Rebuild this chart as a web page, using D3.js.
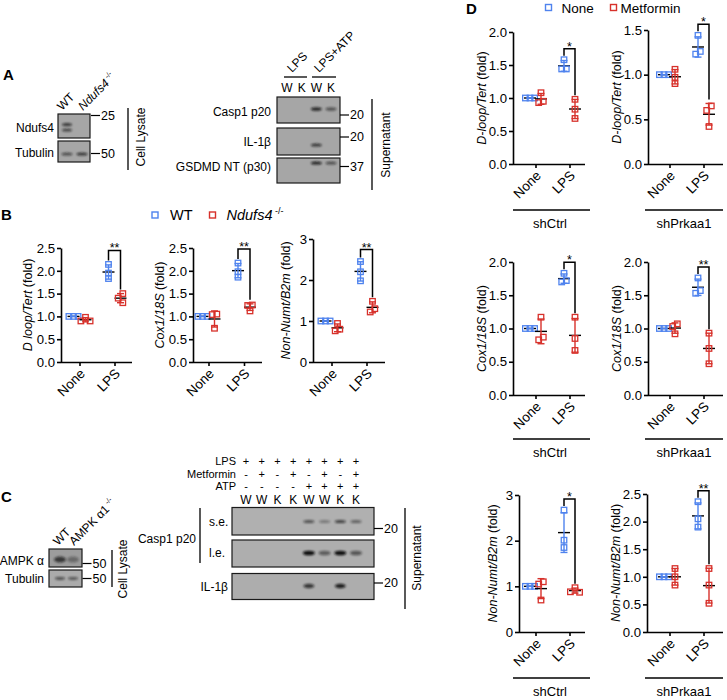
<!DOCTYPE html>
<html><head><meta charset="utf-8">
<script src="https://cdn.jsdelivr.net/npm/d3@7"></script>
<style>
body{margin:0;background:#fff}
svg{display:block}
text{font-family:"Liberation Sans",Arial,Helvetica,sans-serif;fill:#000}
</style>
</head><body>
<svg id="fig" width="727" height="700"></svg>
<script>
// ================= DATA =================
const conditions = ["None", "LPS"];
const legendB = ["WT", "Ndufs4"];
const legendD = ["None", "Metformin"];

// Panel B  (each: [None replicates, LPS replicates])
const bDloopWT = [[1.0, 1.0, 1.0], [2.14, 1.95, 1.83]];
const bDloopKO = [[0.98, 0.90, 0.90], [1.50, 1.40, 1.30]];
const bCox1WT  = [[1.0, 1.0, 1.0], [2.17, 1.98, 1.86]];
const bCox1KO  = [[1.05, 1.04, 0.74], [1.25, 1.24, 1.12]];
const bNumtWT  = [[1.0, 1.0, 1.0], [2.45, 2.20, 1.98]];
const bNumtKO  = [[0.94, 0.76, 0.80], [1.48, 1.30, 1.22]];
const sigB = ["**", "**", "**"];

// Panel D
const dDloopCtrlNone = [[1.0, 1.0, 1.0], [1.58, 1.44, 1.44]];
const dDloopCtrlMet  = [[0.93, 0.95, 1.08], [0.98, 0.83, 0.69]];
const dDloopPrkNone  = [[1.0, 1.0, 1.0], [1.44, 1.23, 1.26]];
const dDloopPrkMet   = [[1.06, 0.97, 0.90], [0.65, 0.60, 0.42]];
const dCoxCtrlNone   = [[1.0, 1.0, 1.0], [1.83, 1.70, 1.72]];
const dCoxCtrlMet    = [[1.17, 0.83, 0.87], [1.17, 0.85, 0.67]];
const dCoxPrkNone    = [[1.0, 1.0, 1.0], [1.76, 1.53, 1.57]];
const dCoxPrkMet     = [[1.07, 1.03, 0.92], [0.93, 0.70, 0.47]];
const dNumtCtrlNone  = [[1.0, 1.0, 1.0], [2.67, 2.01, 1.85]];
const dNumtCtrlMet   = [[1.10, 1.05, 0.70], [0.97, 0.87, 0.88]];
const dNumtPrkNone   = [[1.0, 1.0, 1.0], [2.36, 2.05, 1.90]];
const dNumtPrkMet    = [[1.15, 1.00, 0.85], [1.15, 0.85, 0.52]];
const sigD = ["*", "*", "*", "**", "*", "**"];
const groupsD = ["shCtrl", "shPrkaa1"];

// tick values
const ticksHalf25 = [0, 0.5, 1.0, 1.5, 2.0, 2.5];
const ticksHalf20 = [0, 0.5, 1.0, 1.5, 2.0];
const ticksHalf15 = [0, 0.5, 1.0, 1.5];
const ticksInt3 = [0, 1, 2, 3];

// Blots (band intensities per lane)
const aLanesLeft = ["WT", "Ndufs4"];
const aNdufs4Upper = [0.75, 0];
const aNdufs4Lower = [0.65, 0];
const aTubulin = [0.6, 0.75];
const aLanesRight = ["W", "K", "W", "K"];
const aCasp1 = [0, 0, 0.85, 0.55];
const aIL1b = [0, 0, 0.75, 0];
const aGsdmd = [0, 0, 0.9, 0.6];

const cLanesLeft = ["WT", "AMPK"];
const cAmpk = [0.7, 0.35];
const cTubulin = [0.6, 0.55];
const cLPS = ["+", "+", "+", "+", "+", "+", "+", "+"];
const cMet = ["-", "+", "-", "+", "-", "+", "-", "+"];
const cATP = ["-", "-", "-", "-", "+", "+", "+", "+"];
const cGeno = ["W", "W", "K", "K", "W", "W", "K", "K"];
const cCasp1SE = [0, 0, 0, 0, 0.6, 0.35, 0.7, 0.5];
const cCasp1LE = [0, 0, 0, 0, 1.0, 0.5, 1.0, 0.55];
const cIL1b = [0, 0, 0, 0, 0.75, 0, 0.9, 0];

// ================= DRAWING =================
const BLUE = "#4f83ee", RED = "#d7312b";
const svg = d3.select("#fig");
const defs = svg.append("defs");
defs.append("filter").attr("id", "blur").attr("x", "-50%").attr("y", "-100%").attr("width", "200%").attr("height", "300%")
  .append("feGaussianBlur").attr("stdDeviation", 0.9);

function txt(x, y, s, size, opts = {}) {
  const t = svg.append("text").attr("x", x).attr("y", y).attr("font-size", size).text(s);
  if (opts.anchor) t.attr("text-anchor", opts.anchor);
  if (opts.bold) t.attr("font-weight", "bold");
  if (opts.italic) t.attr("font-style", "italic");
  if (opts.dy) t.attr("dy", opts.dy);
  return t;
}
function line(x1, y1, x2, y2, w = 1.2, c = "#000") {
  svg.append("line").attr("x1", x1).attr("y1", y1).attr("x2", x2).attr("y2", y2)
    .attr("stroke", c).attr("stroke-width", w);
}
function vtext(x, yc, s, size) {
  svg.append("text").attr("transform", `translate(${x},${yc}) rotate(-90)`)
    .attr("text-anchor", "middle").attr("font-size", size).text(s);
}
function rot45(x, y, parts, size) {
  const t = svg.append("text").attr("transform", `translate(${x},${y}) rotate(-45)`).attr("font-size", size);
  parts.forEach(p => {
    const ts = t.append("tspan").text(p.t);
    if (p.italic) ts.attr("font-style", "italic");
    if (p.sup) ts.attr("font-size", size * 0.6).attr("dy", -size * 0.45);
  });
}
function blotBox(x, y, w, h, fill) {
  svg.append("rect").attr("x", x).attr("y", y).attr("width", w).attr("height", h)
    .attr("fill", fill).attr("stroke", "#1a1a1a").attr("stroke-width", 1.2);
}
function bands(scale, lanes, yc, intens, rx, ry) {
  lanes.forEach((l, i) => {
    if (intens[i] > 0) svg.append("ellipse").attr("cx", scale(i)).attr("cy", yc)
      .attr("rx", rx).attr("ry", ry).attr("fill", "#111").attr("opacity", intens[i])
      .attr("filter", "url(#blur)");
  });
}
function marker(x, y, label) {
  line(x, y, x + 9, y, 1.2);
  txt(x + 10, y, label, 12.5, { dy: "0.35em" });
}

// ---------- panel letters ----------
txt(3, 80, "A", 15, { bold: true });
txt(1, 220, "B", 15, { bold: true });
txt(1, 502, "C", 15, { bold: true });
txt(466, 14, "D", 15, { bold: true });

// ---------- Panel A left ----------
const aLeftX = d3.scalePoint().domain(d3.range(aLanesLeft.length)).range([67, 82]);
rot45(62, 111, [{ t: "WT" }], 12);
rot45(83, 111, [{ t: "Ndufs4", italic: true }, { t: " -/-", sup: true }], 12);
blotBox(58, 114, 32, 24, "#a6a6a6");
blotBox(58, 141, 32, 21, "#a6a6a6");
bands(aLeftX, aLanesLeft, 124.5, aNdufs4Upper, 5, 1.6);
bands(aLeftX, aLanesLeft, 130, aNdufs4Lower, 5, 1.5);
bands(aLeftX, aLanesLeft, 154, aTubulin, 5.5, 1.5);
txt(54, 128, "Ndufs4", 12, { anchor: "end", dy: "0.35em" });
txt(54, 153, "Tubulin", 12, { anchor: "end", dy: "0.35em" });
marker(91, 115.5, "25");
marker(91, 153.5, "50");
line(128, 108, 128, 170, 1.3);
vtext(145, 137, "Cell Lysate", 12);

// ---------- Panel A right ----------
const aRightX = d3.scalePoint().domain(d3.range(aLanesRight.length)).range([287, 331]);
rot45(292, 73, [{ t: "LPS" }], 12);
rot45(319, 73, [{ t: "LPS+ATP" }], 12);
line(284, 77, 307, 77, 1.3);
line(312, 77, 336, 77, 1.3);
aLanesRight.forEach((l, i) => txt(aRightX(i), 92, l, 12, { anchor: "middle" }));
blotBox(277, 97, 63, 26, "#a6a6a6");
blotBox(277, 128, 63, 27, "#a6a6a6");
blotBox(277, 158, 63, 25, "#a6a6a6");
bands(aRightX, aLanesRight, 109, aCasp1, 5.5, 1.8);
bands(aRightX, aLanesRight, 145, aIL1b, 5.5, 1.6);
bands(aRightX, aLanesRight, 163, aGsdmd, 5.5, 1.6);
txt(271, 112, "Casp1 p20", 12, { anchor: "end", dy: "0.35em" });
txt(271, 142, "IL-1β", 12, { anchor: "end", dy: "0.35em" });
txt(271, 167, "GSDMD NT (p30)", 12, { anchor: "end", dy: "0.35em" });
marker(340, 115, "20");
marker(340, 137, "20");
marker(340, 166.5, "37");
line(372, 99, 372, 190, 1.3);
vtext(390, 145, "Supernatant", 12);

// ---------- Panel C left ----------
const cLeftX = d3.scalePoint().domain(d3.range(cLanesLeft.length)).range([60, 73]);
rot45(58, 546, [{ t: "WT" }], 12);
rot45(74, 546, [{ t: "AMPK α1" }, { t: " -/-", sup: true }], 12);
blotBox(49, 549, 33, 18, "#9c9c9c");
blotBox(49, 570, 33, 17, "#ababab");
bands(cLeftX, cLanesLeft, 559.5, cAmpk, 6, 3);
bands(cLeftX, cLanesLeft, 578.5, cTubulin, 5, 1.4);
txt(44, 561, "AMPK α", 12, { anchor: "end", dy: "0.35em" });
txt(44, 579, "Tubulin", 12, { anchor: "end", dy: "0.35em" });
marker(82.5, 563.5, "50");
marker(82.5, 578.5, "50");
line(112, 550, 112, 587, 1.3);
vtext(127, 569, "Cell Lysate", 12);

// ---------- Panel C right ----------
const cRightX = d3.scalePoint().domain(d3.range(cGeno.length)).range([246, 356]);
const headRows = [[cLPS, "LPS", 461.5], [cMet, "Metformin", 474], [cATP, "ATP", 486.5]];
headRows.forEach(([arr, lab, yy]) => {
  txt(236, yy, lab, 11, { anchor: "end", dy: "0.35em" });
  arr.forEach((s, i) => txt(cRightX(i), yy, s, 11, { anchor: "middle", dy: "0.35em" }));
});
cGeno.forEach((s, i) => txt(cRightX(i), 504, s, 12, { anchor: "middle" }));
blotBox(232, 507.5, 142, 27.5, "#b0b0b0");
blotBox(232, 540, 142, 27, "#aeaeae");
blotBox(232, 573.5, 142, 26, "#adadad");
bands(cRightX, cGeno, 521.5, cCasp1SE, 5.5, 1.5);
bands(cRightX, cGeno, 553, cCasp1LE, 6, 2.3);
bands(cRightX, cGeno, 586, cIL1b, 5.5, 2.2);
txt(209, 522, "s.e.", 12, { dy: "0.35em" });
txt(209, 553, "l.e.", 12, { dy: "0.35em" });
line(200, 508, 200, 563, 1.3);
txt(196, 538.5, "Casp1 p20", 12, { anchor: "end", dy: "0.35em" });
txt(228, 587, "IL-1β", 12, { anchor: "end", dy: "0.35em" });
marker(374, 528.5, "20");
marker(374, 583, "20");
line(405, 508, 405, 609, 1.3);
vtext(421, 558, "Supernatant", 12);

// ---------- Legends ----------
function legSquare(x, y, c) {
  svg.append("rect").attr("x", x - 3).attr("y", y - 3).attr("width", 6).attr("height", 6)
    .attr("fill", "none").attr("stroke", c).attr("stroke-width", 1.4);
}
legSquare(155, 215, BLUE);
txt(170, 220, legendB[0], 14.5);
legSquare(212.5, 215, RED);
const lb = svg.append("text").attr("x", 226.5).attr("y", 220).attr("font-size", 14.5);
lb.append("tspan").attr("font-style", "italic").text(legendB[1]);
lb.append("tspan").attr("font-size", 9).attr("dy", -6).text(" -/-");

legSquare(548.5, 7.5, BLUE);
txt(561.5, 12.5, legendD[0], 13.5);
legSquare(613.5, 7.5, RED);
txt(620.5, 12.5, legendD[1], 13.5);

// ---------- Scatter charts ----------
function swarm(vals, y, s) {
  const pts = vals.map(v => ({ v, py: y(v), dx: 0 }));
  const order = pts.slice().sort((a, b) => b.v - a.v);
  const placed = [];
  const cands = [0, -0.5, 0.5, -1, 1, -1.5, 1.5, -2, 2].map(k => k * s);
  order.forEach(p => {
    for (const c of cands) {
      if (!placed.some(q => Math.abs(q.dx - c) < s - 0.01 && Math.abs(q.py - p.py) < s)) { p.dx = c; break; }
    }
    placed.push(p);
  });
  const n = pts.length, par = d3.range(n);
  const find = i => par[i] === i ? i : (par[i] = find(par[i]));
  for (let i = 0; i < n; i++) for (let j = i + 1; j < n; j++)
    if (Math.abs(pts[i].py - pts[j].py) < s) par[find(i)] = find(j);
  const groups = d3.group(d3.range(n), i => find(i));
  groups.forEach(idx => {
    const ext = d3.extent(idx, i => pts[i].dx);
    const sh = (ext[0] + ext[1]) / 2;
    idx.forEach(i => pts[i].dx -= sh);
  });
  return pts;
}

function scatter(cfg) {
  const g = svg.append("g");
  const y = d3.scaleLinear().domain(cfg.domain).range([cfg.yBot, cfg.yTop]);
  const x = d3.scalePoint().domain(conditions).range(cfg.tx);
  const fmt = d3.format(cfg.fmt);
  const ya = d3.axisLeft(y).tickValues(cfg.ticks).tickFormat(fmt).tickSize(4).tickSizeOuter(0).tickPadding(2);
  const yg = g.append("g").attr("transform", `translate(${cfg.x0},0)`).call(ya);
  yg.attr("font-family", null).attr("font-size", 13.2);
  yg.selectAll("path,line").attr("stroke-width", 1.6);
  const xa = d3.axisBottom(x).tickSize(4).tickSizeOuter(0).tickFormat("");
  const xg = g.append("g").attr("transform", `translate(0,${cfg.yBot})`).call(xa);
  xg.select(".domain").attr("d", `M${cfg.x0},0.5H${cfg.xr}`);
  xg.selectAll("path,line").attr("stroke-width", 1.6);
  conditions.forEach(c => g.append("text")
    .attr("transform", `translate(${x(c) + 3},${cfg.yBot + 9}) rotate(-45)`)
    .attr("text-anchor", "end").attr("dy", "0.35em").attr("font-size", 13.5).text(c));
  const t = g.append("text").attr("transform", `translate(${cfg.titleX},${(cfg.yTop + cfg.yBot) / 2}) rotate(-90)`)
    .attr("text-anchor", "middle").attr("font-size", 12.5);
  t.append("tspan").attr("font-style", "italic").text(cfg.title);
  t.append("tspan").text(" (fold)");

  const series = [{ d: cfg.a, c: BLUE, o: -cfg.off }, { d: cfg.b, c: RED, o: cfg.off }];
  series.forEach(s => {
    conditions.forEach((cond, ci) => {
      const vals = s.d[ci];
      const cx = x(cond) + s.o;
      const m = d3.mean(vals), sd = d3.deviation(vals);
      g.append("line").attr("x1", cx - 6).attr("x2", cx + 6).attr("y1", y(m)).attr("y2", y(m))
        .attr("stroke", "#000").attr("stroke-width", 1.4);
      g.append("line").attr("x1", cx).attr("x2", cx).attr("y1", y(m - sd)).attr("y2", y(m + sd))
        .attr("stroke", s.c).attr("stroke-width", 1.4);
      [m - sd, m + sd].forEach(v => g.append("line").attr("x1", cx - 3.5).attr("x2", cx + 3.5)
        .attr("y1", y(v)).attr("y2", y(v)).attr("stroke", s.c).attr("stroke-width", 1.4));
      swarm(vals, y, 4.6).forEach(p => g.append("rect")
        .attr("x", cx + p.dx - 2.75).attr("y", p.py - 2.75).attr("width", 5.5).attr("height", 5.5)
        .attr("fill", "none").attr("stroke", s.c).attr("stroke-width", 1.3));
    });
  });
  const lps = conditions[1];
  const xl = x(lps) - cfg.off, xr = x(lps) + cfg.off;
  const topA = Math.max(d3.max(cfg.a[1]), d3.mean(cfg.a[1]) + d3.deviation(cfg.a[1]));
  const topB = Math.max(d3.max(cfg.b[1]), d3.mean(cfg.b[1]) + d3.deviation(cfg.b[1]));
  const by = y(topA) - cfg.gap;
  g.append("path").attr("d", `M${xl},${y(topA) - 4}V${by}H${xr}V${y(topB) - 4}`)
    .attr("fill", "none").attr("stroke", "#000").attr("stroke-width", 1.5);
  g.append("text").attr("x", (xl + xr) / 2).attr("y", by + 2).attr("text-anchor", "middle")
    .attr("font-size", 12.5).text(cfg.sig);
}

const chartsB = [
  { x0: 61, xr: 132, tx: [79.5, 114.5], yTop: 248, yBot: 362, domain: [0, 2.5], ticks: ticksHalf25, fmt: ".1f",
    titleX: 32, title: "D loop/Tert", a: bDloopWT, b: bDloopKO, sig: sigB[0], off: 6, gap: 14 },
  { x0: 193, xr: 262, tx: [208.5, 244], yTop: 248, yBot: 362, domain: [0, 2.5], ticks: ticksHalf25, fmt: ".1f",
    titleX: 164, title: "Cox1/18S", a: bCox1WT, b: bCox1KO, sig: sigB[1], off: 6, gap: 14 },
  { x0: 313, xr: 385, tx: [331.5, 366.5], yTop: 239, yBot: 362, domain: [0, 3], ticks: ticksInt3, fmt: "d",
    titleX: 290, title: "Non-Numt/B2m", a: bNumtWT, b: bNumtKO, sig: sigB[2], off: 6, gap: 12 }
];
const chartsD = [
  { x0: 513, xr: 585, tx: [535.5, 569.5], yTop: 32, yBot: 164, domain: [0, 2], ticks: ticksHalf20, fmt: ".1f",
    titleX: 486, title: "D-loop/Tert", a: dDloopCtrlNone, b: dDloopCtrlMet, sig: sigD[0] },
  { x0: 648, xr: 723, tx: [669.5, 703.5], yTop: 30, yBot: 164, domain: [0, 1.5], ticks: ticksHalf15, fmt: ".1f",
    titleX: 621, title: "D-loop/Tert", a: dDloopPrkNone, b: dDloopPrkMet, sig: sigD[1] },
  { x0: 513, xr: 585, tx: [535.5, 569.5], yTop: 262, yBot: 395, domain: [0, 2], ticks: ticksHalf20, fmt: ".1f",
    titleX: 486, title: "Cox1/18S", a: dCoxCtrlNone, b: dCoxCtrlMet, sig: sigD[2] },
  { x0: 648, xr: 723, tx: [669.5, 703.5], yTop: 262, yBot: 395, domain: [0, 2], ticks: ticksHalf20, fmt: ".1f",
    titleX: 621, title: "Cox1/18S", a: dCoxPrkNone, b: dCoxPrkMet, sig: sigD[3] },
  { x0: 519, xr: 585, tx: [535.5, 569.5], yTop: 495, yBot: 632, domain: [0, 3], ticks: ticksInt3, fmt: "d",
    titleX: 497, title: "Non-Numt/B2m", a: dNumtCtrlNone, b: dNumtCtrlMet, sig: sigD[4] },
  { x0: 647, xr: 723, tx: [669.5, 703.5], yTop: 494, yBot: 632, domain: [0, 2.5], ticks: ticksHalf25, fmt: ".1f",
    titleX: 620, title: "Non-Numt/B2m", a: dNumtPrkNone, b: dNumtPrkMet, sig: sigD[5] }
];
chartsB.forEach(scatter);
chartsD.forEach(c => scatter(Object.assign({ off: 5.5, gap: 11 }, c)));

const groupRows = [210, 439, 678];
groupRows.forEach(yy => {
  line(513, yy, 590, yy, 1.4);
  txt(550, yy + 18, groupsD[0], 13, { anchor: "middle" });
  line(645, yy, 723, yy, 1.4);
  txt(684, yy + 18, groupsD[1], 13, { anchor: "middle" });
});
</script>
</body></html>
